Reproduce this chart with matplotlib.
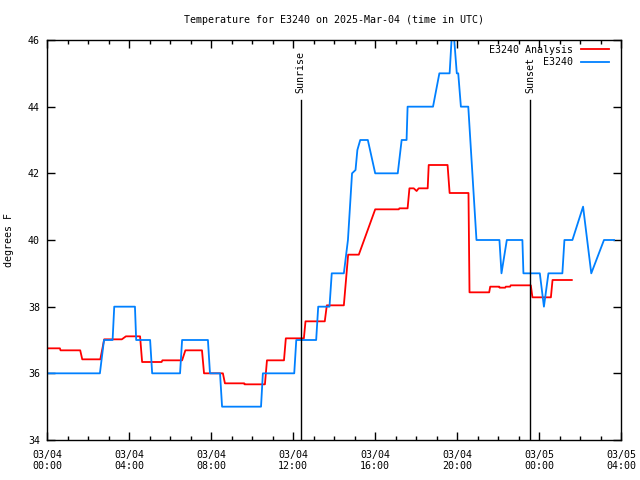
import matplotlib
matplotlib.use("Agg")
import matplotlib.pyplot as plt
import matplotlib.dates as mdates
import pandas as pd

plt.rcParams['font.family'] = 'DejaVu Sans Mono'
plt.rcParams['font.size'] = 7.2

# time axis: hours after 2025-03-04 00:00 UTC
day0 = pd.Timestamp("2025-03-04 00:00")

obs_hours = [0.0, 2.58, 2.78, 3.20, 3.28, 4.29, 4.35, 5.03, 5.13, 6.49, 6.59,
             7.85, 7.95, 8.44, 8.54, 10.44, 10.53, 12.06, 12.16, 13.13, 13.23,
             13.78, 13.89, 14.48, 14.68, 14.88, 15.05, 15.14, 15.28, 15.65,
             16.01, 17.11, 17.30, 17.54, 17.59, 18.83, 19.14, 19.64, 19.79,
             19.99, 20.06, 20.19, 20.55, 20.95, 22.07, 22.17, 22.43, 23.19,
             23.24, 24.04, 24.24, 24.46, 25.14, 25.24, 25.63, 26.15, 26.55,
             27.17, 27.66]
obs_temp = [36, 36, 37, 37, 38, 38, 37, 37, 36, 36, 37,
            37, 36, 36, 35, 35, 36, 36, 37, 37, 38,
            38, 39, 39, 40, 42, 42.1, 42.7, 43, 43,
            42, 42, 43, 43, 44, 44, 45, 45, 46.6,
            45, 45, 44, 44, 40, 40, 39, 40, 40,
            39, 39, 38, 39, 39, 40, 40, 41, 39,
            40, 40]

ana_hours = [0.0, 0.63, 0.66, 1.62, 1.72, 2.60, 2.79, 3.65, 3.85, 4.54, 4.64,
             5.59, 5.63, 6.59, 6.75, 7.56, 7.66, 8.58, 8.68, 9.62, 9.64,
             10.63, 10.73, 11.56, 11.65, 12.53, 12.61, 13.55, 13.65, 14.48,
             14.69, 15.21, 16.01, 17.16, 17.19, 17.59, 17.68, 17.89, 18.03,
             18.13, 18.57, 18.62, 19.54, 19.64, 20.56, 20.61, 21.57, 21.62,
             22.06, 22.08, 22.35, 22.38, 22.59, 22.62, 23.60, 23.68, 24.58,
             24.66, 25.60]
ana_temp = [36.75, 36.75, 36.69, 36.69, 36.42, 36.42, 37.02, 37.02, 37.11, 37.11, 36.34,
            36.34, 36.39, 36.39, 36.69, 36.69, 36.0, 36.0, 35.70, 35.70, 35.67,
            35.67, 36.39, 36.39, 37.05, 37.05, 37.56, 37.56, 38.04, 38.04,
            39.56, 39.56, 40.92, 40.92, 40.95, 40.95, 41.55, 41.55, 41.47,
            41.55, 41.55, 42.25, 42.25, 41.41, 41.41, 38.43, 38.43, 38.60,
            38.60, 38.57, 38.57, 38.60, 38.60, 38.64, 38.64, 38.28, 38.28,
            38.80, 38.80]

sun_hours = [12.37, 23.58]
sun_labels = ["Sunrise", "Sunset"]

def to_time(hours):
  return day0 + pd.to_timedelta(hours, unit="h")

fig = plt.figure(figsize=(6.4, 4.8), dpi=100)
ax = fig.add_axes([47/640, 40/480, 574/640, 400/480])

ax.plot(to_time(ana_hours), ana_temp, color='#ff0000', lw=1.3, label='E3240 Analysis')
ax.plot(to_time(obs_hours), obs_temp, color='#0080ff', lw=1.3, label='E3240')

for h, lab in zip(sun_hours, sun_labels):
  t = to_time(h)
  ax.plot([t, t], [34, 44.2], color='black', lw=1)
  ax.text(t, 44.4, lab, rotation=90, ha='center', va='bottom')

ax.set_xlim(to_time(0), to_time(28))
ax.set_ylim(34, 46)
ax.set_yticks([34, 36, 38, 40, 42, 44, 46])
ax.xaxis.set_major_locator(mdates.HourLocator(byhour=[0, 4, 8, 12, 16, 20]))
ax.xaxis.set_minor_locator(mdates.HourLocator())
ax.xaxis.set_major_formatter(mdates.DateFormatter('%m/%d\n%H:%M'))
ax.tick_params(which='both', direction='in', top=True, right=True, color='black')
ax.tick_params(which='major', length=6, width=1, pad=7)
ax.tick_params(which='minor', length=3, width=1)
ax.tick_params(axis='y', pad=5)
for s in ax.spines.values():
  s.set_linewidth(1)

ax.set_ylabel("degrees F", labelpad=10)
ax.set_title("Temperature for E3240 on 2025-Mar-04 (time in UTC)", fontsize=7.2, pad=12)

ax.legend(loc='upper right', bbox_to_anchor=(1 - 8/574, 1 - 1/400), frameon=False,
          markerfirst=False, handlelength=2.8, handletextpad=0.8,
          borderaxespad=0, labelspacing=0.25)

fig.savefig("out.png", dpi=100)
